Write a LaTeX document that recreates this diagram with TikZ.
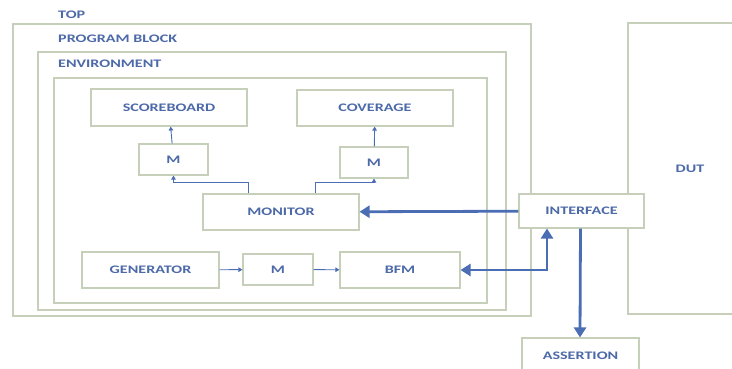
\documentclass[tikz,border=0pt]{standalone}
\usepackage{fontspec}
\newfontfamily\blockfont{Carlito}[FakeStretch=1.4]
\usetikzlibrary{positioning,arrows.meta,calc}
\definecolor{frameGrey}{HTML}{C6CFBA}
\definecolor{labelBlue}{HTML}{4C69A8}
\definecolor{busBlue}{HTML}{4A6DB3}
\tikzset{
  x=1pt, y=-1pt,
  frame/.style={draw=frameGrey, line width=1.2pt},
  heading/.style={anchor=west, text=labelBlue, inner sep=0pt,
                  font=\blockfont\bfseries\fontsize{11.5}{13}\selectfont},
  blk/.style={draw=frameGrey, line width=1.1pt, fill=white, text=labelBlue,
              font=\blockfont\bfseries\fontsize{11.5}{13}\selectfont,
              inner sep=0pt, minimum height=36pt},
  mon/.style={blk, minimum width=69pt, minimum height=31pt},
  link/.style={-{Triangle[length=4pt,width=4.5pt]}, line width=0.9pt, busBlue},
  bus/.style={-{Triangle[length=10pt,width=12pt]}, line width=2.8pt, busBlue},
}
\begin{document}
\begin{tikzpicture}
    \useasboundingbox (0,0) rectangle (732,368);

    % nested blocks
    \draw[frame] (13,24) rectangle (531,316);
    \draw[frame] (38,52) rectangle (506,310);
    \draw[frame] (54,78) rectangle (487,303);
    \node[heading] (topLbl) at (58,15) {TOP};
    \node[heading] (pbLbl) at (58,39) {PROGRAM BLOCK};
    \node[heading] (envLbl) at (58,64) {ENVIRONMENT};

    \node[blk, minimum width=156pt, minimum height=37pt] (score) at (169,107.5) {SCOREBOARD};
    \node[blk, minimum width=156pt] (cover) at (375,108) {COVERAGE};
    \node[mon] (mL) at (173.5,159.5) {M};
    \node[mon, minimum width=68pt] (mR) at (374,162.5) {M};
    \node[blk, minimum width=156pt] (monitor) at (281,212) {MONITOR};

    \node[blk, minimum width=137pt] (gen) at (150.5,270) {GENERATOR};
    \node[mon, minimum width=70pt] (mM) at (278,269.5) {M};
    \node[blk, minimum width=120pt] (bfm) at (400,270) {BFM};

    \node[blk, minimum width=124pt, minimum height=291pt] (dut) at (690,168.5) {DUT};
    \node[blk, minimum width=125pt, minimum height=34pt] (iface) at (581.5,211) {INTERFACE};
    \node[blk, minimum width=117pt] (assert) at (580.5,356) {ASSERTION};

    % monitor fan-out
    \draw[link] ([xshift=-33pt]monitor.north) -- ++(0,-11) -| (mL.south);
    \draw[link] ([xshift=34pt]monitor.north) -- ++(0,-11) -| (mR.south);
    \draw[link] (mL) -- (score);
    \draw[link] (mR) -- (cover);

    % stimulus path
    \draw[link] (gen) -- (mM);
    \draw[link] (mM) -- (bfm);

    % interface buses
    \draw[bus] (iface) -- (monitor);
    \draw[bus, {Triangle[length=10pt,width=12pt]}-{Triangle[length=10pt,width=12pt]}]
      (bfm.east) -| ([xshift=-34.5pt]iface.south);
    \draw[bus] ([xshift=-1pt]iface.south) -- ([xshift=-0.5pt]assert.north);
\end{tikzpicture}
\end{document}
